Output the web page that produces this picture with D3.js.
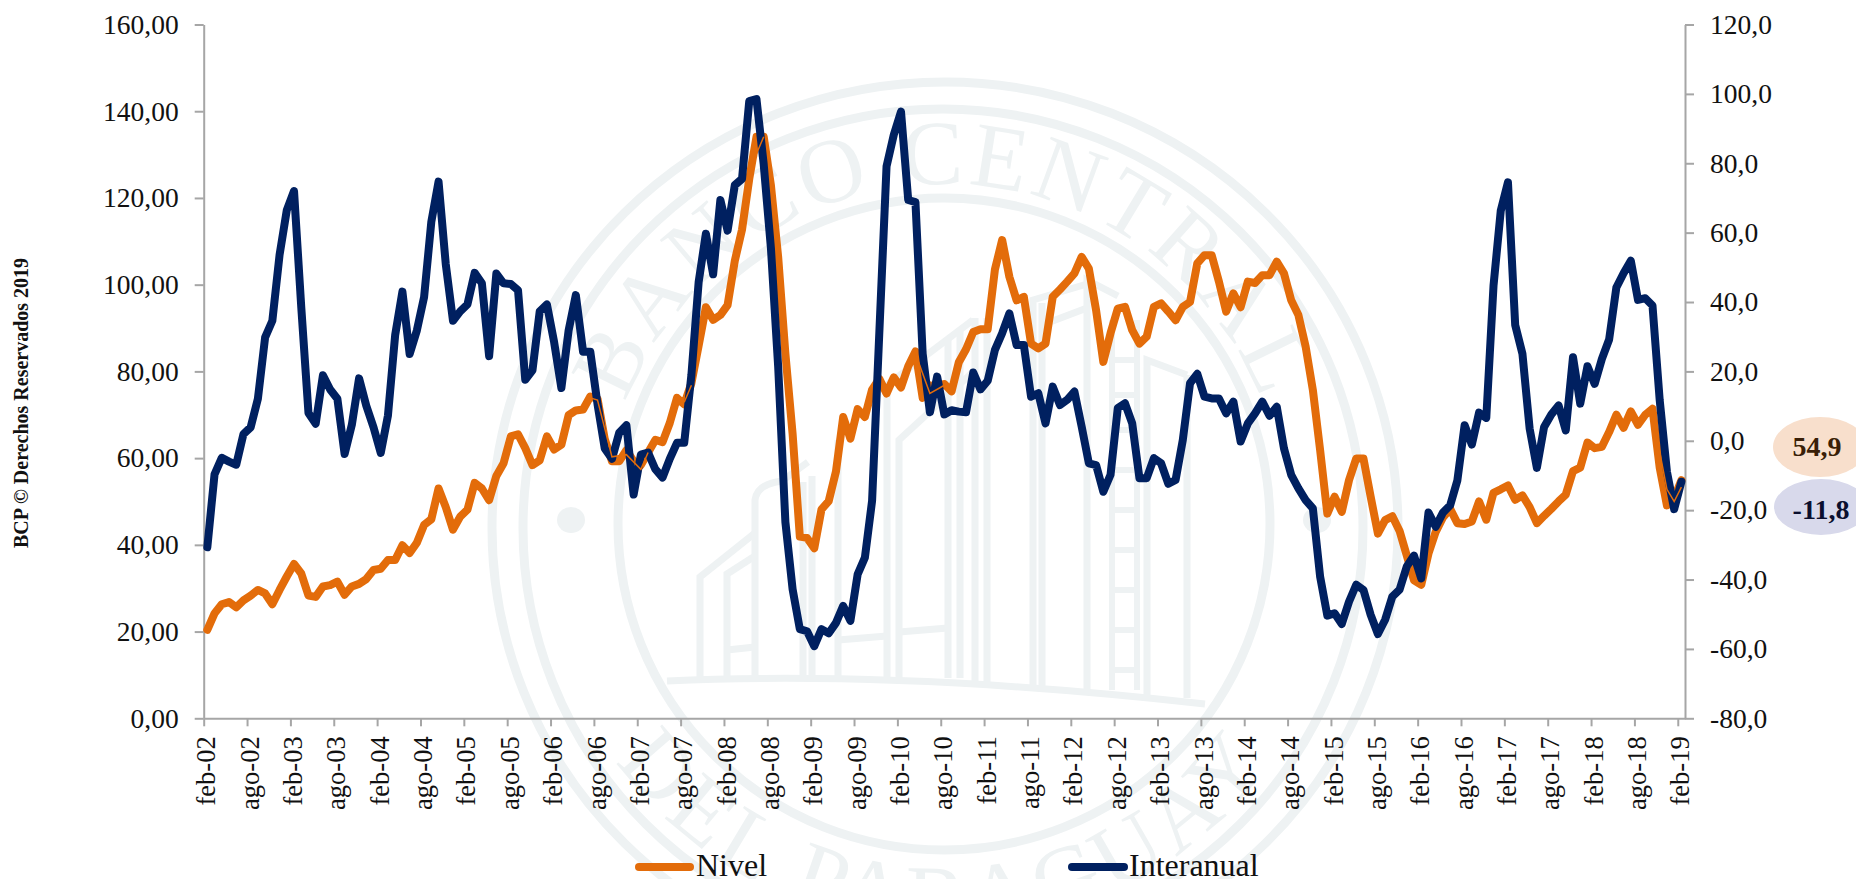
<!DOCTYPE html>
<html>
<head>
<meta charset="utf-8">
<script src="https://cdn.jsdelivr.net/npm/d3@7"></script>
<style>
  html, body { margin: 0; padding: 0; background: #fff; overflow: hidden; }
  text { font-family: "Liberation Serif", serif; }
</style>
</head>
<body>
<div id="vis"></div>
<script>
// feb-02 ... feb-19, one value per month
const tickLabels = ["feb-02","ago-02","feb-03","ago-03","feb-04","ago-04","feb-05","ago-05","feb-06","ago-06",
  "feb-07","ago-07","feb-08","ago-08","feb-09","ago-09","feb-10","ago-10","feb-11","ago-11","feb-12","ago-12",
  "feb-13","ago-13","feb-14","ago-14","feb-15","ago-15","feb-16","ago-16","feb-17","ago-17","feb-18","ago-18","feb-19"];

const leftTicks = [0, 20, 40, 60, 80, 100, 120, 140, 160];
const rightTicks = [-80, -60, -40, -20, 0, 20, 40, 60, 80, 100, 120];

const nivel = [
  20.4,24.2,26.3,26.8,25.6,27.2,28.3,29.6,28.8,26.3,29.6,32.7,35.6,33.4,28.3,28.0,30.4,30.7,31.5,28.5,
  30.4,31.0,32.1,34.2,34.5,36.5,36.5,39.9,38.1,40.5,44.6,45.9,53.0,48.7,43.5,46.5,48.1,54.3,53.0,50.3,
  55.9,58.8,65.0,65.5,62.3,58.4,59.5,65.0,62.0,63.1,69.9,71.0,71.2,74.2,73.7,64.4,59.3,59.3,61.8,59.3,
  58.4,61.3,64.2,63.7,68.1,73.9,72.4,77.3,86.0,94.8,91.9,93.0,95.3,105.5,112.7,124.4,134.1,134.1,122.9,106.4,
  84.1,65.6,41.9,41.6,39.2,48.2,50.1,56.9,69.5,64.5,71.3,69.5,75.8,78.3,74.9,78.6,76.3,81.2,84.6,73.9,
  76.8,76.3,77.1,75.4,82.1,85.1,89.1,89.7,89.7,103.5,110.3,101.8,96.4,97.2,86.4,85.3,86.4,97.2,98.9,100.7,
  102.6,106.4,103.7,94.1,82.2,88.8,94.5,94.9,89.5,86.4,88.0,94.9,95.7,93.8,91.8,94.9,96.0,104.9,106.8,106.8,
  100.7,93.8,98.0,94.8,100.7,100.4,102.2,102.2,105.3,102.6,96.4,93.0,85.7,75.7,61.9,47.2,51.1,47.6,54.9,59.9,
  59.9,51.1,42.6,45.7,46.6,43.2,37.5,31.8,30.8,38.0,43.0,46.3,48.3,45.0,44.8,45.4,50.0,45.8,52.0,52.8,
  53.7,50.4,51.4,48.7,45.0,46.7,48.3,50.0,51.6,57.0,57.8,63.6,62.3,62.6,66.0,70.0,67.0,70.8,67.7,70.0,
  71.4,57.8,49.1,50.8,54.9];

const interanual = [
  -30.7,-9.7,-4.9,-6.0,-6.9,1.9,3.9,12.1,29.8,34.6,53.6,66.5,72.0,38.6,8.0,4.9,18.9,14.8,12.1,-3.8,
  4.6,18.0,10.1,3.9,-3.5,7.3,30.5,43.0,25.0,31.8,41.4,63.1,74.7,50.9,34.6,37.3,39.3,48.4,45.4,24.4,
  48.2,45.4,45.2,43.4,17.6,20.3,37.3,39.3,28.4,15.2,31.8,42.0,25.7,25.7,10.6,-2.2,-5.2,2.3,4.5,-15.5,
  -4.0,-3.4,-8.2,-10.6,-5.2,-0.6,-0.6,19.1,45.8,59.7,48.0,69.4,60.6,73.7,75.5,97.9,98.5,79.7,55.5,21.5,
  -23.4,-42.8,-54.3,-54.9,-59.2,-54.3,-55.5,-52.5,-47.6,-51.9,-38.5,-33.7,-17.3,31.2,79.1,88.2,94.9,69.4,68.8,25.1,
  8.2,18.5,7.6,8.8,8.4,8.2,19.7,14.8,17.3,26.2,31.0,36.7,27.6,27.6,12.7,13.7,5.0,15.6,10.3,11.8,
  14.2,4.1,-6.5,-7.0,-14.7,-9.8,9.4,10.8,5.0,-10.8,-10.8,-5.0,-6.5,-12.4,-11.3,0.2,16.6,19.3,12.7,12.2,
  12.2,7.9,11.3,-0.2,5.0,7.9,11.3,7.2,9.8,-2.2,-9.8,-13.7,-17.1,-19.5,-39.1,-50.4,-49.7,-52.8,-46.4,-41.5,
  -43.0,-50.2,-55.7,-51.6,-44.9,-42.9,-36.2,-33.1,-39.7,-20.7,-24.8,-20.7,-18.6,-11.4,4.5,-1.1,8.1,6.6,44.7,66.3,
  74.5,33.4,25.1,3.5,-7.8,4.0,7.6,10.2,3.0,24.1,10.7,21.5,16.4,23.6,29.2,44.2,48.3,51.9,40.6,41.1,
  39.0,11.7,-8.9,-19.7,-11.8];

// thin orange trace that shows next to the thick one in a few spots
const nivelFinoMes = [53,54,56,58,60,61,null,66,67,null,76,77,null,98,100,102,null,200,202,203,204];
const nivelFinoVal = [73.9,73.4,60.3,60.8,57.4,61.3,null,72.9,76.8,null,130.2,134.1,null,84.1,74.9,76.8,null,70.1,52.8,50.0,53.3];

const w = 1856, h = 879;
const left = 203.7, right = 1685, top_ = 24.5, bottom = 718.3;
const naranja = "#E36C0A", azul = "#002060", gris = "#A6A6A6", sello = "#EEF2F3";

let fmt = d3.formatLocale({ decimal: ",", thousands: ".", grouping: [3], currency: ["", ""], minus: "-" });

let svg = d3.select("#vis").append("svg")
  .attr("width", w)
  .attr("height", h)
  .style("display", "block");

drawSeal();

let x = d3.scaleLinear().domain([0, nivel.length]).range([left, right]);
let yLeft = d3.scaleLinear().domain([0, 160]).range([bottom, top_]);
let yRight = d3.scaleLinear().domain([-80, 120]).range([bottom, top_]);

// ticks sit on the edge of each month, the points in the middle of it
let xAxis = d3.axisBottom(x)
  .tickValues(tickLabels.map(function(d, i) { return i * 6; }))
  .tickFormat(function(d, i) { return tickLabels[i]; })
  .tickSize(8)
  .tickSizeOuter(0);

let xG = svg.append("g").attr("transform", "translate(0," + bottom + ")").call(xAxis);
xG.selectAll("text")
  .attr("transform", "rotate(-90)")
  .attr("text-anchor", "end")
  .attr("x", -18)
  .attr("y", 0)
  .attr("dx", 0)
  .attr("dy", "0.42em")
  .style("font-size", "26.5px");

let lG = svg.append("g").attr("transform", "translate(" + left + ",0)")
  .call(d3.axisLeft(yLeft).tickValues(leftTicks).tickFormat(fmt.format(".2f")).tickSize(9).tickPadding(16).tickSizeOuter(0));
lG.selectAll("text").style("font-size", "27.5px");

let rG = svg.append("g").attr("transform", "translate(" + right + ",0)")
  .call(d3.axisRight(yRight).tickValues(rightTicks).tickFormat(fmt.format(".1f")).tickSize(9).tickPadding(16).tickSizeOuter(0));
rG.selectAll("text").style("font-size", "27.5px");

svg.selectAll(".domain, .tick line")
  .attr("stroke", gris)
  .attr("stroke-width", 2);
svg.selectAll(".tick text").attr("fill", "#111");

let lineNivel = d3.line()
  .x(function(d, i) { return x(i + 0.5); })
  .y(function(d) { return yLeft(d); });

let lineInter = d3.line()
  .x(function(d, i) { return x(i + 0.5); })
  .y(function(d) { return yRight(d); });

let lineFino = d3.line()
  .defined(function(d) { return d !== null; })
  .x(function(d, i) { return x(nivelFinoMes[i] + 0.5); })
  .y(function(d) { return yLeft(d); });

svg.append("path")
  .attr("d", lineNivel(nivel))
  .attr("fill", "none")
  .attr("stroke", naranja)
  .attr("stroke-width", 8)
  .attr("stroke-linejoin", "round")
  .attr("stroke-linecap", "round");

svg.append("path")
  .attr("d", lineInter(interanual))
  .attr("fill", "none")
  .attr("stroke", azul)
  .attr("stroke-width", 8)
  .attr("stroke-linejoin", "round")
  .attr("stroke-linecap", "round");

svg.append("path")
  .attr("d", lineFino(nivelFinoVal))
  .attr("fill", "none")
  .attr("stroke", naranja)
  .attr("stroke-width", 1.5);

// last values
svg.append("ellipse").attr("cx", 1820).attr("cy", 447).attr("rx", 47).attr("ry", 30).attr("fill", "#F8DFCC");
svg.append("ellipse").attr("cx", 1821).attr("cy", 507).attr("rx", 47).attr("ry", 28).attr("fill", "#D8D9EB");

svg.append("text")
  .attr("x", 1817).attr("y", 456)
  .attr("text-anchor", "middle")
  .attr("font-size", 28).attr("font-weight", "bold").attr("fill", "#3A1F08")
  .text(fmt.format(".1f")(nivel[nivel.length - 1]));

svg.append("text")
  .attr("x", 1821).attr("y", 519)
  .attr("text-anchor", "middle")
  .attr("font-size", 28).attr("font-weight", "bold").attr("fill", "#0B0F2E")
  .text(fmt.format(".1f")(interanual[interanual.length - 1]));

// legend
svg.append("line").attr("x1", 639).attr("x2", 690).attr("y1", 867).attr("y2", 867)
  .attr("stroke", naranja).attr("stroke-width", 8).attr("stroke-linecap", "round");
svg.append("text").attr("x", 696).attr("y", 876).attr("font-size", 32).attr("fill", "#111").text("Nivel");
svg.append("line").attr("x1", 1072).attr("x2", 1124).attr("y1", 867).attr("y2", 867)
  .attr("stroke", azul).attr("stroke-width", 8).attr("stroke-linecap", "round");
svg.append("text").attr("x", 1129).attr("y", 876).attr("font-size", 32).attr("fill", "#111").text("Interanual");

svg.append("text")
  .attr("transform", "translate(28,548) rotate(-90)")
  .attr("font-size", 20).attr("font-weight", "bold").attr("fill", "#111")
  .text("BCP © Derechos Reservados 2019");

// watermark seal behind the chart
function drawSeal() {
  let cx = 944, cy = 525;
  let g = svg.append("g").attr("fill", "none").attr("stroke", sello).attr("stroke-width", 9);

  g.append("ellipse").attr("cx", 945).attr("cy", 528).attr("rx", 453).attr("ry", 446);
  g.append("ellipse").attr("cx", 943).attr("cy", 528).attr("rx", 420).attr("ry", 419);
  g.append("circle").attr("cx", 944).attr("cy", 524).attr("r", 326);

  g.append("ellipse").attr("cx", 571).attr("cy", 520).attr("rx", 14).attr("ry", 13).attr("fill", sello).attr("stroke", "none");
  g.append("ellipse").attr("cx", 1317).attr("cy", 520).attr("rx", 14).attr("ry", 13).attr("fill", sello).attr("stroke", "none");

  let defs = svg.append("defs");
  let rt = 341, rb = 404;
  defs.append("path").attr("id", "arcTop")
    .attr("d", "M" + (cx - rt) + "," + cy + " A" + rt + "," + rt + " 0 0 1 " + (cx + rt) + "," + cy);
  defs.append("path").attr("id", "arcBottom")
    .attr("d", "M" + (cx - rb) + "," + cy + " A" + rb + "," + rb + " 0 0 0 " + (cx + rb) + "," + cy);

  svg.append("text").attr("font-size", 92).attr("fill", sello).attr("letter-spacing", 4)
    .append("textPath").attr("href", "#arcTop").attr("startOffset", "50%").attr("text-anchor", "middle")
    .text("BANCO CENTRAL");

  svg.append("text").attr("font-size", 92).attr("fill", sello).attr("letter-spacing", 6)
    .append("textPath").attr("href", "#arcBottom").attr("startOffset", "50%").attr("text-anchor", "middle")
    .text("DEL PARAGUAY");

  // building
  let paths = [
    "M667,681 Q900,670 1205,704",
    "M700,678 V577 L755,533",
    "M755,678 V500 Q757,484 782,481 L808,462",
    "M727,678 V574 L755,556 M727,650 L755,647",
    "M803,678 V482 M812,678 V476",
    "M838,678 V440 M887,678 V385 L973,320",
    "M899,678 V440 L973,372",
    "M948,678 V338 M960,678 V330",
    "M975,684 V318 M987,684 V318",
    "M838,640 L887,636 M899,632 L948,628",
    "M1033,690 V300 L1087,284 M1042,690 V303",
    "M1087,692 V280 L1118,296",
    "M1147,696 V360 L1187,375 M1187,698 V375",
    "M1050,322 L1087,308"
  ];
  paths.forEach(function(p) {
    g.append("path").attr("d", p).attr("stroke-width", 7);
  });

  // stacked blocks of the tower
  g.append("path")
    .attr("d", "M1112,360 H1137 M1112,395 H1137 M1112,430 H1137 M1112,470 H1137 M1112,510 H1137 M1112,550 H1137 M1112,590 H1137 M1112,630 H1137 M1112,670 H1137 M1112,320 V690 M1137,320 V690")
    .attr("stroke-width", 6);
}
</script>
</body>
</html>
